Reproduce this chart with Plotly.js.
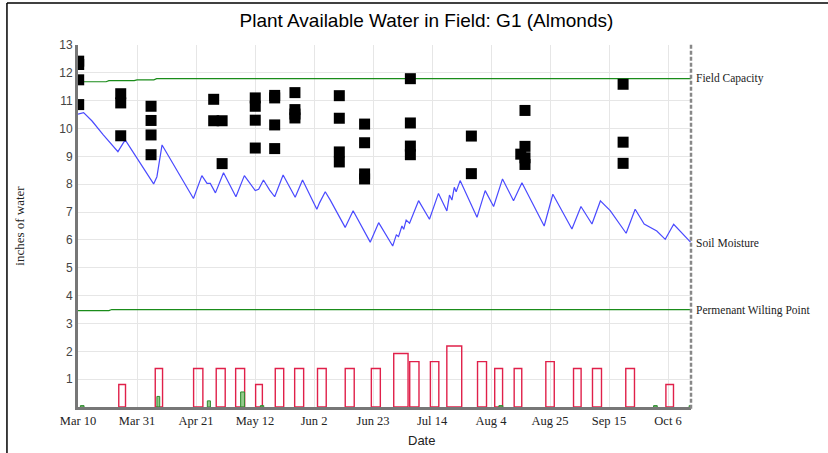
<!DOCTYPE html>
<html>
<head>
<meta charset="utf-8">
<script src="https://cdn.plot.ly/plotly-3.0.1.min.js"></script>
<style>html,body{margin:0;padding:0;background:#fff;}#chart{width:828px;height:453px;}</style>
</head>
<body>
<div id="chart"></div>
<script>
// ---- Data ----
const moistureDates = ["2014-03-10","2014-03-12","2014-03-15","2014-03-19","2014-03-24 05:00","2014-03-26 19:00","2014-04-05 22:00","2014-04-07 02:00","2014-04-08 22:00","2014-04-20 02:00","2014-04-23 02:00","2014-04-24 22:00","2014-04-26 02:00","2014-04-27 22:00","2014-04-30 19:00","2014-05-05 05:00","2014-05-08 05:00","2014-05-10 07:00","2014-05-12 02:00","2014-05-13 07:00","2014-05-15","2014-05-17 05:00","2014-05-19","2014-05-22","2014-05-26 07:00","2014-05-28 22:00","2014-06-03","2014-06-04","2014-06-06","2014-06-07 19:00","2014-06-13 02:00","2014-06-15 22:00","2014-06-22","2014-06-25","2014-06-30","2014-07-01 07:00","2014-07-02 02:00","2014-07-03 07:00","2014-07-03 22:00","2014-07-04 19:00","2014-07-06","2014-07-09 05:00","2014-07-13 02:00","2014-07-16 07:00","2014-07-19 07:00","2014-07-20 05:00","2014-07-21 02:00","2014-07-21 22:00","2014-07-22 14:00","2014-07-24","2014-07-30","2014-08-01 22:00","2014-08-04 22:00","2014-08-08 02:00","2014-08-12","2014-08-15","2014-08-22 22:00","2014-08-26","2014-09-01 19:00","2014-09-05","2014-09-08 22:00","2014-09-11 22:00","2014-09-15 10:00","2014-09-21 02:00","2014-09-24 07:00","2014-09-27 12:00","2014-10-02","2014-10-05","2014-10-08","2014-10-14"];
const moistureValues = [10.52,10.57,10.27,9.77,9.17,9.59,8.01,8.27,9.41,7.49,8.31,8.03,8.03,7.69,8.41,7.55,8.31,8.01,7.77,7.82,8.15,7.79,7.55,8.33,7.53,8.15,7.10,7.34,7.73,7.43,6.45,7.05,5.92,6.62,5.78,6.18,6.12,6.50,6.38,6.71,6.60,7.41,6.74,7.67,7.04,7.61,7.43,7.89,7.73,8.13,6.81,7.77,7.20,8.19,7.41,8.05,6.50,7.64,6.39,7.20,6.57,7.40,7.05,6.24,7.10,6.57,6.32,6.02,6.56,5.92];

const fcDates = ["2014-03-10","2014-03-20","2014-03-21","2014-03-30","2014-03-31","2014-04-06","2014-04-07","2014-10-14 04:00"];
const fcValues = [11.68,11.68,11.72,11.72,11.75,11.75,11.79,11.79];

const pwpDates = ["2014-03-10","2014-03-21","2014-03-22","2014-10-14 04:00"];
const pwpValues = [3.46,3.46,3.50,3.50];

const irrigDates = ["2014-03-25 17:00","2014-04-07 19:00","2014-04-21 19:00","2014-04-29 19:00","2014-05-06 17:00","2014-05-13 10:00","2014-05-20 17:00","2014-05-27 17:00","2014-06-04 19:00","2014-06-14 17:00","2014-06-24","2014-07-02 22:00","2014-07-07 17:00","2014-07-14 22:00","2014-07-21 22:00","2014-07-31 19:00","2014-08-06 17:00","2014-08-13 14:00","2014-08-25","2014-09-03 17:00","2014-09-10 17:00","2014-09-22 12:00","2014-10-06 14:00"];
const irrigValues = [0.81,1.38,1.38,1.38,1.38,0.81,1.38,1.38,1.38,1.38,1.38,1.92,1.63,1.63,2.19,1.63,1.38,1.38,1.63,1.38,1.38,1.38,0.81];
const irrigDurationDays = [2.4,2.6,3.3,3.2,3.2,2.4,3.0,3.2,3.1,3.2,3.2,5.1,3.3,3.0,5.3,3.2,2.8,2.7,3.0,2.7,3.2,3.1,2.7];

const rainDates = ["2014-03-11 12:00","2014-04-07 14:00","2014-04-25 14:00","2014-05-07 14:00","2014-05-14 12:00","2014-08-07 12:00","2014-10-01 12:00","2014-10-14"];
const rainValues = [0.05,0.38,0.22,0.54,0.05,0.05,0.05,0.05];
const rainDurationDays = [1.3,1.0,1.1,1.4,1.2,1.4,1.3,1.0];

const sensorDates = ["2014-03-10 06:00","2014-03-10 06:00","2014-03-10 06:00","2014-03-10 06:00",
  "2014-03-25 05:00","2014-03-25 05:00","2014-03-25 05:00",
  "2014-04-05","2014-04-05","2014-04-05","2014-04-05",
  "2014-04-27 07:00","2014-04-27 07:00","2014-04-30 07:00","2014-04-30 07:00",
  "2014-05-12 02:00","2014-05-12 02:00","2014-05-12 02:00","2014-05-12 02:00",
  "2014-05-19","2014-05-19","2014-05-19","2014-05-19",
  "2014-05-26 05:00","2014-05-26 05:00","2014-05-26 05:00","2014-05-26 05:00",
  "2014-06-11","2014-06-11","2014-06-11","2014-06-11",
  "2014-06-20","2014-06-20","2014-06-20","2014-06-20",
  "2014-07-06 07:00","2014-07-06 07:00","2014-07-06 07:00","2014-07-06 07:00",
  "2014-07-28","2014-07-28",
  "2014-08-16 02:00","2014-08-16 02:00","2014-08-16 02:00","2014-08-16 02:00","2014-08-14 14:00",
  "2014-09-20","2014-09-20","2014-09-20"];
const sensorValues = [12.42,12.30,11.75,10.86,
  11.25,10.92,9.74,
  10.80,10.29,9.77,9.06,
  11.05,10.28,10.28,8.74,
  11.10,10.80,10.30,9.30,
  11.19,11.10,10.13,9.28,
  11.29,10.68,10.52,10.38,
  11.18,10.37,9.16,8.80,
  10.16,9.49,8.37,8.19,
  11.79,10.20,9.37,9.06,
  9.73,8.38,
  10.65,9.36,8.95,8.71,9.08,
  11.59,9.51,8.75];

const tickDates = ["2014-03-10","2014-03-31","2014-04-21","2014-05-12","2014-06-02","2014-06-23","2014-07-14","2014-08-04","2014-08-25","2014-09-15","2014-10-06"];
const tickLabels = ["Mar 10","Mar 31","Apr 21","May 12","Jun 2","Jun 23","Jul 14","Aug 4","Aug 25","Sep 15","Oct 6"];
const yTicks = [1,2,3,4,5,6,7,8,9,10,11,12,13];

const DAY = 86400000;
const serif = "'Liberation Serif', 'Times New Roman', serif";
const sans = "'Liberation Sans', Arial, sans-serif";

const traces = [
  {type:'bar', x: irrigDates, y: irrigValues, width: irrigDurationDays.map(d => d*DAY),
   marker:{color:'rgba(255,255,255,0)', line:{color:'#e0204a', width:1.4}}, hoverinfo:'skip'},
  {type:'bar', x: rainDates, y: rainValues, width: rainDurationDays.map(d => d*DAY),
   marker:{color:'rgba(120,190,110,0.8)', line:{color:'#2e8b2e', width:1}}, hoverinfo:'skip'},
  {type:'scatter', mode:'lines', x: fcDates, y: fcValues, line:{color:'#1a8c1a', width:1.2}, hoverinfo:'skip'},
  {type:'scatter', mode:'lines', x: pwpDates, y: pwpValues, line:{color:'#1a8c1a', width:1.2}, hoverinfo:'skip'},
  {type:'scatter', mode:'lines', x: moistureDates, y: moistureValues, line:{color:'#4a4aff', width:1.2}, hoverinfo:'skip'},
  {type:'scatter', mode:'markers', x: sensorDates, y: sensorValues,
   marker:{symbol:'square', size:11, color:'#000', line:{width:0}}, hoverinfo:'skip'}
];

const xEnd = "2014-10-14 04:00";
const layout = {
  width:828, height:453,
  margin:{l:78, r:137, t:45, b:46},
  paper_bgcolor:'#fff', plot_bgcolor:'#fff',
  showlegend:false, barmode:'overlay', bargap:0,
  title:{text:'Plant Available Water in Field: G1 (Almonds)', font:{family:sans, size:19, color:'#000'},
         x:0.515, xanchor:'center', y:0.955, yanchor:'middle'},
  xaxis:{type:'date', range:["2014-03-10", xEnd], tickvals:tickDates, ticktext:tickLabels,
         showgrid:true, gridcolor:'#e6e6e6', gridwidth:1, zeroline:false,
         showline:true, linecolor:'#777', linewidth:3, ticks:'',
         tickfont:{family:serif, size:12.5, color:'#222'}},
  yaxis:{range:[0,13], tickvals:yTicks, showgrid:true, gridcolor:'#e6e6e6', gridwidth:1, zeroline:false,
         showline:true, linecolor:'#777', linewidth:3, ticks:'',
         tickfont:{family:sans, size:12, color:'#444'},
         title:{text:'inches of water', font:{family:serif, size:13, color:'#222'}, standoff:32}},
  shapes:[
    {type:'line', xref:'paper', yref:'paper', x0:1, x1:1, y0:-0.005, y1:1.005, line:{color:'#888', width:2.5, dash:'4px,2px'}},
    {type:'line', xref:'paper', yref:'paper', x0:-0.1159, x1:-0.1159, y0:1.116, y1:-0.13, line:{color:'#000', width:1.5}},
    {type:'line', xref:'paper', yref:'paper', x0:-0.1159, x1:1.23, y0:1.116, y1:1.116, line:{color:'#000', width:1.5}}
  ],
  annotations:[
    {xref:'paper', yref:'y', x:1, y:11.79, text:'Field Capacity', showarrow:false, xanchor:'left', yanchor:'middle', xshift:3, font:{family:serif, size:11.5, color:'#222'}},
    {xref:'paper', yref:'y', x:1, y:5.89, text:'Soil Moisture', showarrow:false, xanchor:'left', yanchor:'middle', xshift:3, font:{family:serif, size:11.5, color:'#222'}},
    {xref:'paper', yref:'y', x:1, y:3.48, text:'Permenant Wilting Point', showarrow:false, xanchor:'left', yanchor:'middle', xshift:3, font:{family:serif, size:11.5, color:'#222'}},
    {xref:'paper', yref:'paper', x:0.56, y:-0.0912, text:'Date', showarrow:false, xanchor:'center', yanchor:'middle', font:{family:sans, size:13, color:'#222'}}
  ]
};

Plotly.newPlot('chart', traces, layout, {staticPlot:true, displayModeBar:false});
</script>
</body>
</html>
